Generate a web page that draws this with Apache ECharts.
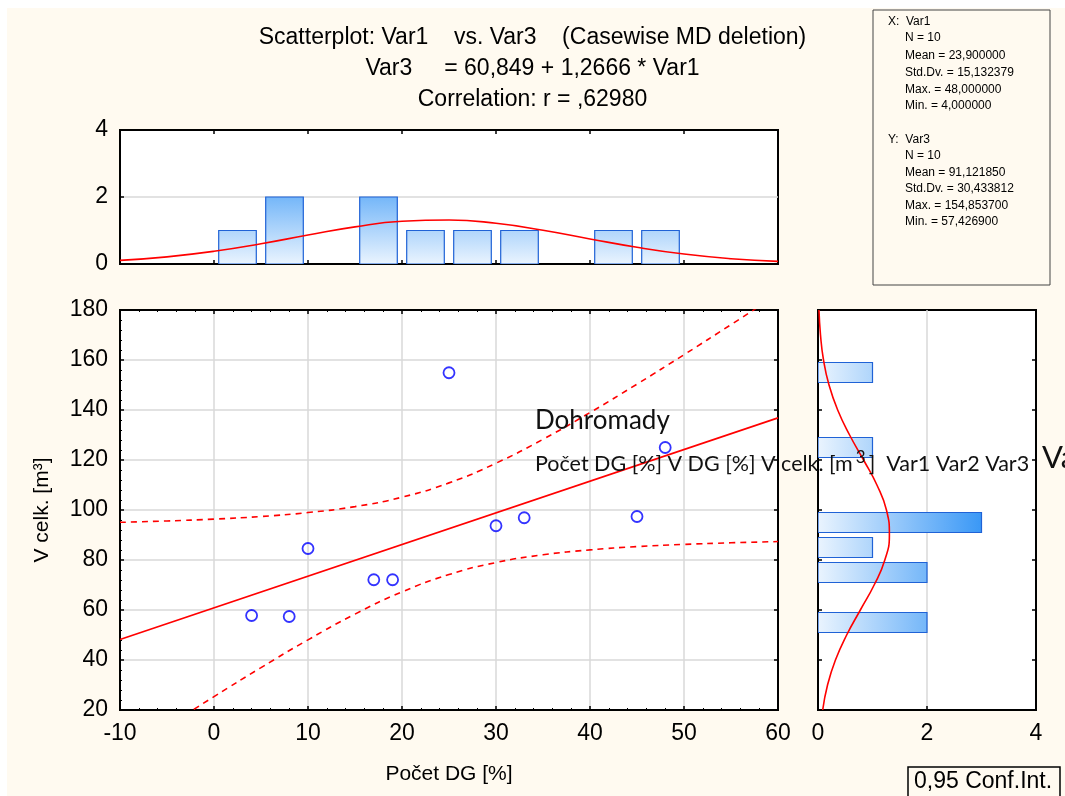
<!DOCTYPE html>
<html>
<head>
<meta charset="utf-8">
<script src="https://cdn.jsdelivr.net/npm/echarts@6/dist/echarts.min.js"></script>
<style>
html,body{margin:0;padding:0;background:#ffffff;}
#chart{width:1065px;height:796px;}
</style>
</head>
<body>
<div id="chart"></div>
<script>
// ---- data ----
const xVals = [4, 8, 10, 17, 19, 25, 30, 33, 45, 48];
const yVals = [57.8, 57.4, 84.6, 72.1, 72.1, 154.9, 93.7, 96.9, 97.4, 125.0];

const topBinStart = [0, 5, 15, 20, 25, 30, 40, 45];
const topBinWidth = 5;
const topBinCount = [1, 2, 2, 1, 1, 1, 1, 1];

const rightBinStart = [50, 70, 80, 90, 120, 150];
const rightBinWidth = 10;
const rightBinCount = [2, 2, 1, 3, 1, 1];

const curveX = [-10, -5, 0, 5, 10, 15, 20, 25, 30, 35, 40, 45, 50, 55, 60];
const topNormal = [0.107, 0.213, 0.379, 0.604, 0.864, 1.109, 1.275, 1.315, 1.215, 1.007, 0.748, 0.499, 0.298, 0.159, 0.077];
const bandUpper = [95.07, 95.62, 96.36, 97.41, 98.97, 101.36, 105.13, 110.85, 118.72, 128.29, 138.98, 150.35, 162.12, 174.14, 186.33];
const bandLower = [1.29, 13.42, 25.34, 36.95, 48.07, 58.34, 67.23, 74.17, 78.98, 82.07, 84.04, 85.35, 86.24, 86.88, 87.37];

const regX = [-10, 60];
const regY = [48.18, 136.85];

const curveY = [20, 30, 40, 50, 60, 70, 80, 90, 100, 110, 120, 130, 140, 150, 160, 170, 180];
const rightNormal = [0.086, 0.175, 0.320, 0.526, 0.777, 1.030, 1.226, 1.310, 1.256, 1.081, 0.836, 0.580, 0.361, 0.202, 0.101, 0.046, 0.018];

const xTicks = {min: -10, max: 60, interval: 10};
const yTicks = {min: 20, max: 180, interval: 20};
const histTicks = {min: 0, max: 4, interval: 2};

const titleLines = [
  'Scatterplot: Var1    vs. Var3    (Casewise MD deletion)',
  'Var3     = 60,849 + 1,2666 * Var1',
  'Correlation: r = ,62980'
];
const statsX = ['X:  Var1', 'N = 10', 'Mean = 23,900000', 'Std.Dv. = 15,132379', 'Max. = 48,000000', 'Min. = 4,000000'];
const statsY = ['Y:  Var3', 'N = 10', 'Mean = 91,121850', 'Std.Dv. = 30,433812', 'Max. = 154,853700', 'Min. = 57,426900'];
const xName = 'Počet DG [%]';
const yName = 'V celk. [m³]';

// ---- chart ----
const FONT = '"Liberation Sans", Arial, sans-serif';
const RED = '#ff0000';
const chart = echarts.init(document.getElementById('chart'), null, {renderer: 'canvas'});

function gradStops() {
  return [{offset: 0, color: '#eaf4fe'}, {offset: 1, color: '#3a98f6'}];
}

const labelStyle = {color: '#000', fontFamily: FONT, fontSize: 23};
function baseAxis(extra) {
  return Object.assign({
    type: 'value',
    axisLine: {show: true, onZero: false, lineStyle: {color: '#000', width: 2}},
    axisTick: {show: true, inside: true, length: 4, lineStyle: {color: '#000', width: 1.5}},
    axisLabel: {show: false},
    splitLine: {show: false}
  }, extra);
}

const statsGraphics = [];
statsX.forEach((t, i) => {
  statsGraphics.push({type: 'text', z: 3, left: i === 0 ? 888 : 905, top: [22, 38, 56, 73, 90, 106][i] - 6,
    style: {text: t, font: '12px ' + FONT, fill: '#000'}});
});
statsY.forEach((t, i) => {
  statsGraphics.push({type: 'text', z: 3, left: i === 0 ? 888 : 905, top: [140, 156, 173, 189, 206, 222][i] - 6,
    style: {text: t, font: '12px ' + FONT, fill: '#000'}});
});

const option = {
  animation: false,
  backgroundColor: '#ffffff',
  title: {
    text: titleLines.join('\n'),
    left: 'center', top: 17,
    textStyle: {fontFamily: FONT, fontSize: 23, fontWeight: 'normal', color: '#000', lineHeight: 31}
  },
  graphic: [
    {type: 'rect', z: -10, silent: true, shape: {x: 7, y: 8, width: 1058, height: 788}, style: {fill: '#fffaf0'}},
    {type: 'rect', z: 1, shape: {x: 873, y: 10, width: 177, height: 275}, style: {fill: '#fffaf0', stroke: '#444', lineWidth: 1}},
    ...statsGraphics,
    {type: 'rect', z: 1, shape: {x: 908, y: 767, width: 152, height: 32}, style: {fill: '#fffaf0', stroke: '#000', lineWidth: 1.5}},
    {type: 'text', z: 3, left: 914, top: 770, style: {text: '0,95 Conf.Int.', font: '23px ' + FONT, fill: '#000'}},
    {type: 'text', z: 50, left: 535, top: 408, style: {text: 'Dohromady', font: '26px Lato, sans-serif', fill: '#111'}},
    {type: 'text', z: 50, left: 535, top: 449, style: {
      text: 'Počet DG [%] V DG [%] V celk. [m{sup|3}]  Var1 Var2 Var3',
      font: '21.5px Lato, sans-serif', fill: '#111',
      rich: {sup: {fontSize: 17, fontFamily: 'Lato, sans-serif', padding: [0, 3, 14, 3], fill: '#111'}}
    }},
    {type: 'text', z: 50, left: 1042, top: 442, style: {text: 'Va', font: '31px Lato, sans-serif', fill: '#111'}}
  ],
  grid: [
    {left: 120, top: 130, width: 658, height: 134, show: true, backgroundColor: '#fff', borderColor: '#000', borderWidth: 2},
    {left: 120, top: 310, width: 658, height: 400, show: true, backgroundColor: '#fff', borderColor: '#000', borderWidth: 2},
    {left: 818, top: 310, width: 218, height: 400, show: true, backgroundColor: '#fff', borderColor: '#000', borderWidth: 2}
  ],
  xAxis: [
    baseAxis(Object.assign({gridIndex: 0, position: 'bottom'}, xTicks)),
    baseAxis(Object.assign({gridIndex: 0, position: 'top'}, xTicks)),
    baseAxis(Object.assign({gridIndex: 1, position: 'bottom',
      axisLabel: Object.assign({show: true, margin: 12}, labelStyle),
      minorTick: {show: true, splitNumber: 5, length: 2, lineStyle: {color: '#000'}},
      splitLine: {show: true, lineStyle: {color: '#d9d9d9', width: 1.5}},
      name: xName, nameLocation: 'middle', nameGap: 54,
      nameTextStyle: {fontFamily: FONT, fontSize: 21, color: '#000'}}, xTicks)),
    baseAxis(Object.assign({gridIndex: 1, position: 'top',
      minorTick: {show: true, splitNumber: 5, length: 2, lineStyle: {color: '#000'}}}, xTicks)),
    baseAxis(Object.assign({gridIndex: 2, position: 'bottom',
      axisLabel: Object.assign({show: true, margin: 12}, labelStyle),
      splitLine: {show: true, lineStyle: {color: '#d9d9d9', width: 1.5}}}, histTicks))
  ],
  yAxis: [
    baseAxis(Object.assign({gridIndex: 0, position: 'left',
      axisLabel: Object.assign({show: true, margin: 12}, labelStyle),
      splitLine: {show: true, lineStyle: {color: '#d9d9d9', width: 1.5}}}, histTicks)),
    baseAxis(Object.assign({gridIndex: 1, position: 'left',
      axisLabel: Object.assign({show: true, margin: 12}, labelStyle),
      minorTick: {show: true, splitNumber: 5, length: 2, lineStyle: {color: '#000'}},
      splitLine: {show: true, lineStyle: {color: '#d9d9d9', width: 1.5}},
      name: yName, nameLocation: 'middle', nameGap: 67, nameRotate: 90,
      nameTextStyle: {fontFamily: FONT, fontSize: 21, color: '#000'}}, yTicks)),
    baseAxis(Object.assign({gridIndex: 1, position: 'right'}, yTicks)),
    baseAxis(Object.assign({gridIndex: 2, position: 'left'}, yTicks)),
    baseAxis(Object.assign({gridIndex: 2, position: 'right'}, yTicks))
  ],
  series: [
    {
      type: 'custom', xAxisIndex: 0, yAxisIndex: 0, clip: true,
      data: topBinStart.map((s, i) => [s, s + topBinWidth, topBinCount[i]]),
      encode: {x: [0, 1], y: 2},
      renderItem: function (params, api) {
        const a = api.coord([api.value(0), 0]);
        const b = api.coord([api.value(1), api.value(2)]);
        const g0 = api.coord([0, 0]), g3 = api.coord([0, 3]);
        const w = b[0] - a[0], inset = w * 0.1;
        return {
          type: 'rect',
          shape: {x: a[0] + inset, y: b[1], width: w - 2 * inset, height: a[1] - b[1]},
          style: {
            fill: {type: 'linear', x: 0, y: g0[1], x2: 0, y2: g3[1], global: true, colorStops: gradStops()},
            stroke: '#1f62d6', lineWidth: 1.2
          }
        };
      }
    },
    {
      type: 'line', xAxisIndex: 0, yAxisIndex: 0, smooth: true, showSymbol: false, z: 5,
      data: curveX.map((x, i) => [x, topNormal[i]]),
      lineStyle: {color: RED, width: 1.6}
    },
    {
      type: 'line', xAxisIndex: 2, yAxisIndex: 1, showSymbol: false, clip: true, z: 4,
      data: regX.map((x, i) => [x, regY[i]]),
      lineStyle: {color: RED, width: 1.6}
    },
    {
      type: 'line', xAxisIndex: 2, yAxisIndex: 1, smooth: true, showSymbol: false, clip: true, z: 4,
      data: curveX.map((x, i) => [x, bandUpper[i]]),
      lineStyle: {color: RED, width: 1.6, type: [6, 5]}
    },
    {
      type: 'line', xAxisIndex: 2, yAxisIndex: 1, smooth: true, showSymbol: false, clip: true, z: 4,
      data: curveX.map((x, i) => [x, bandLower[i]]),
      lineStyle: {color: RED, width: 1.6, type: [6, 5]}
    },
    {
      type: 'scatter', xAxisIndex: 2, yAxisIndex: 1, z: 6,
      symbol: 'circle', symbolSize: 11,
      data: xVals.map((x, i) => [x, yVals[i]]),
      itemStyle: {color: 'rgba(0,0,0,0)', borderColor: '#0000ff', borderWidth: 1.8}
    },
    {
      type: 'custom', xAxisIndex: 4, yAxisIndex: 3, clip: true,
      data: rightBinStart.map((s, i) => [s, s + rightBinWidth, rightBinCount[i]]),
      encode: {y: [0, 1], x: 2},
      renderItem: function (params, api) {
        const a = api.coord([0, api.value(0)]);
        const b = api.coord([api.value(2), api.value(1)]);
        const g0 = api.coord([0, 100]), g3 = api.coord([3, 100]);
        const h = a[1] - b[1], inset = h * 0.1;
        return {
          type: 'rect',
          shape: {x: a[0], y: b[1] + inset, width: b[0] - a[0], height: h - 2 * inset},
          style: {
            fill: {type: 'linear', x: g0[0], y: 0, x2: g3[0], y2: 0, global: true, colorStops: gradStops()},
            stroke: '#1f62d6', lineWidth: 1.2
          }
        };
      }
    },
    {
      type: 'line', xAxisIndex: 4, yAxisIndex: 3, smooth: true, showSymbol: false, z: 5, clip: true,
      data: curveY.map((y, i) => [rightNormal[i], y]),
      lineStyle: {color: RED, width: 1.6}
    }
  ]
};
chart.setOption(option);
</script>
</body>
</html>
